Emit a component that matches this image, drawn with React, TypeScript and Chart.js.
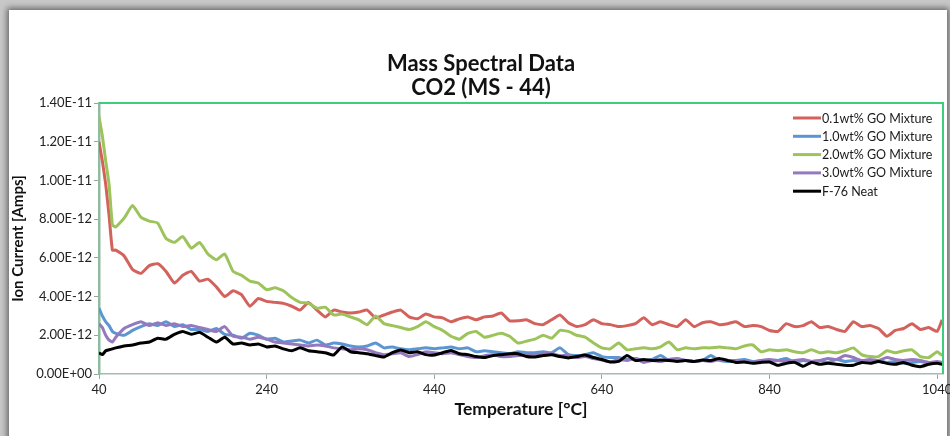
import { useEffect, useRef } from "react";
import { Chart, registerables } from "chart.js";

Chart.register(...registerables);

// Temperature sampling points (°C)
const temperatures = [
  40, 44, 48, 52, 56,
  60, 70, 80, 90, 100, 110, 120, 130, 140, 150,
  160, 170, 180, 190, 200, 210, 220, 230, 240, 250,
  260, 270, 280, 290, 300, 310, 320, 330, 340, 350,
  360, 370, 380, 390, 400, 410, 420, 430, 440, 450,
  460, 470, 480, 490, 500, 510, 520, 530, 540, 550,
  560, 570, 580, 590, 600, 610, 620, 630, 640, 650,
  660, 670, 680, 690, 700, 710, 720, 730, 740, 750,
  760, 770, 780, 790, 800, 810, 820, 830, 840, 850,
  860, 870, 880, 890, 900, 910, 920, 930, 940, 950,
  960, 970, 980, 990, 1000, 1010, 1020, 1030, 1040,
  1046,
];

// Ion current, in units of 1E-12 A
const goMix01 = [
  12.0, 11.0, 9.8, 8.2, 6.4,
  6.4, 6.1, 5.4, 5.2, 5.6, 5.7, 5.3, 4.7, 5.1, 5.3,
  4.8, 4.9, 4.5, 4.0, 4.3, 4.1, 3.5, 3.9, 3.75, 3.7,
  3.65, 3.5, 3.3, 3.7, 3.3, 2.95, 3.3, 3.2, 3.15, 3.2,
  3.3, 2.9, 3.05, 3.2, 3.3, 2.95, 2.85, 3.1, 2.95, 2.9,
  2.7, 2.85, 2.95, 2.8, 2.95, 3.0, 3.15, 2.75, 2.75, 2.8,
  2.6, 2.55, 2.8, 3.05, 2.65, 2.45, 2.55, 2.8, 2.6, 2.55,
  2.45, 2.5, 2.6, 2.9, 2.55, 2.7, 2.55, 2.45, 2.8, 2.45,
  2.65, 2.7, 2.55, 2.6, 2.7, 2.45, 2.5, 2.45, 2.25, 2.2,
  2.6, 2.45, 2.5, 2.7, 2.4, 2.45, 2.3, 2.2, 2.7, 2.45,
  2.5, 2.35, 1.95, 2.25, 2.35, 2.6, 2.3, 2.4, 2.2,
  2.8,
];

const goMix10 = [
  3.4, 3.0, 2.7, 2.5, 2.2,
  2.1, 2.0, 2.25, 2.45, 2.6, 2.5, 2.7, 2.45, 2.55, 2.3,
  2.3, 2.2, 2.35, 2.05, 2.0, 1.85, 2.1, 2.0, 1.8, 1.85,
  1.65, 1.7, 1.75, 1.6, 1.75, 1.5, 1.6, 1.55, 1.45, 1.4,
  1.45, 1.6, 1.35, 1.4, 1.3, 1.25, 1.3, 1.35, 1.3, 1.35,
  1.4, 1.3, 1.35, 1.15, 1.2, 1.15, 1.1, 1.05, 1.15, 1.1,
  1.1, 1.15, 1.1, 1.35, 1.0, 0.95, 1.0, 1.1, 0.9, 0.85,
  0.85, 0.75, 0.8, 0.7, 0.75, 0.95, 0.7, 0.75, 0.7, 0.65,
  0.7, 0.95, 0.7, 0.65, 0.7, 0.75, 0.65, 0.7, 0.65, 0.7,
  0.8, 0.6, 0.7, 0.65, 0.7, 0.6, 0.75, 0.65, 0.7, 0.6,
  0.65, 0.7, 0.6, 0.65, 0.55, 0.6, 0.65, 0.55, 0.6,
  0.55,
];

const goMix20 = [
  13.3, 12.3, 11.0, 9.8, 7.7,
  7.6, 8.05, 8.7, 8.1, 7.9, 7.8, 7.0, 6.8, 7.1, 6.5,
  6.8, 6.2, 5.9, 6.2, 5.3, 5.1, 4.8, 4.7, 4.35, 4.45,
  4.3, 3.95, 3.7, 3.65, 3.4, 3.45, 3.05, 3.1, 2.95, 2.8,
  2.55, 3.0, 2.6, 2.5, 2.4, 2.3, 2.45, 2.7, 2.45, 2.25,
  1.95, 1.8, 2.1, 2.2, 1.9, 2.0, 2.1, 1.95, 1.6, 1.7,
  1.8, 2.0, 1.85, 2.25, 2.2, 2.0, 1.9, 1.6, 1.35, 1.3,
  1.6, 1.25, 1.3, 1.35, 1.3, 1.4, 1.65, 1.25, 1.35, 1.3,
  1.35, 1.35, 1.4, 1.35, 1.3, 1.45, 1.5, 1.15, 1.25, 1.2,
  1.25, 1.15, 1.1, 1.25, 1.1, 1.15, 1.1, 1.2, 1.35, 1.0,
  0.9, 0.9, 1.2, 1.1, 1.2, 1.25, 0.9, 0.85, 1.15,
  0.95,
];

const goMix30 = [
  2.6, 2.4, 2.0, 1.75, 1.65,
  1.9, 2.35, 2.55, 2.7, 2.5, 2.65, 2.5, 2.6, 2.45, 2.5,
  2.4, 2.3, 2.2, 2.45, 1.95, 1.9, 1.8, 1.9, 1.8, 1.65,
  1.6, 1.55, 1.5, 1.45, 1.5, 1.45, 1.35, 1.3, 1.25, 1.3,
  1.25, 1.1, 1.0, 1.05, 1.1, 0.9, 1.0, 1.15, 1.1, 1.05,
  1.1, 1.0, 0.9, 0.85, 0.95, 1.0, 0.9, 0.9, 0.95, 1.0,
  1.0, 1.05, 1.05, 0.95, 0.95, 0.85, 0.9, 0.8, 0.72, 0.62,
  0.75, 0.7, 0.8, 0.6, 0.7, 0.65, 0.75, 0.8, 0.7, 0.65,
  0.7, 0.65, 0.75, 0.7, 0.7, 0.65, 0.6, 0.7, 0.75, 0.7,
  0.65, 0.7, 0.75, 0.65, 0.7, 0.8, 0.75, 0.95, 0.85, 0.7,
  0.75, 0.7, 0.85, 0.75, 0.7, 0.75, 0.7, 0.6, 0.65,
  0.6,
];

const f76Neat = [
  1.1, 1.0, 1.2, 1.25, 1.3,
  1.35, 1.45, 1.5, 1.6, 1.65, 1.85, 1.8, 2.05, 2.2, 2.05,
  2.15, 1.9, 1.65, 1.9, 1.55, 1.6, 1.5, 1.55, 1.4, 1.45,
  1.3, 1.2, 1.35, 1.2, 1.15, 1.1, 0.98, 1.4, 1.15, 1.1,
  1.05, 0.95, 0.88, 1.1, 1.24, 1.1, 1.15, 1.0, 0.98, 1.1,
  1.22, 1.05, 1.0, 0.9, 0.85, 0.95, 1.0, 1.05, 1.05, 0.9,
  0.88, 0.95, 1.0, 0.9, 0.83, 0.9, 0.98, 0.85, 0.75, 0.62,
  0.65, 0.95, 0.7, 0.75, 0.7, 0.72, 0.7, 0.65, 0.7, 0.65,
  0.72, 0.7, 0.8, 0.7, 0.6, 0.62, 0.55, 0.6, 0.62, 0.45,
  0.55, 0.6, 0.4, 0.6, 0.5, 0.55, 0.5, 0.45, 0.45, 0.6,
  0.55, 0.65, 0.55, 0.5, 0.6, 0.45, 0.38, 0.5, 0.55,
  0.5,
];

const seriesLabels = [
  "0.1wt% GO Mixture",
  "1.0wt% GO Mixture",
  "2.0wt% GO Mixture",
  "3.0wt% GO Mixture",
  "F-76 Neat",
];
const seriesValues = [goMix01, goMix10, goMix20, goMix30, f76Neat];
const seriesColors = ["#d3625d", "#5b96d2", "#9dc35b", "#9579bf", "#000000"];

const xTickValues = [40, 240, 440, 640, 840, 1040];
const titleLines = ["Mass Spectral Data", "CO2 (MS - 44)"];
const xTitle = "Temperature [°C]";
const yTitle = "Ion Current [Amps]";

const FONT = "Lato, 'Open Sans', sans-serif";

// 2 -> "2.00E-12", 0 -> "0.00E+00"
function formatAmps(v: number): string {
  const [mant, exp] = (v * 1e-12).toExponential(2).split("e");
  const sign = exp[0] === "-" ? "-" : "+";
  const digits = exp.replace(/^[+-]/, "").padStart(2, "0");
  return `${mant}E${sign}${digits}`;
}

const decorPlugin = {
  id: "decor",
  afterDraw(chart: any) {
    const { ctx, chartArea: a } = chart;
    ctx.save();

    // green plot-area frame (top and right edges)
    ctx.strokeStyle = "#3ecd7c";
    ctx.lineWidth = 2;
    ctx.beginPath();
    ctx.moveTo(a.left, a.top);
    ctx.lineTo(a.right, a.top);
    ctx.lineTo(a.right, a.bottom);
    ctx.stroke();

    // two-line title
    ctx.fillStyle = "#111";
    ctx.font = `bold 22px ${FONT}`;
    ctx.textAlign = "center";
    ctx.textBaseline = "middle";
    titleLines.forEach((t, i) => ctx.fillText(t, 481, 64 + i * 24));

    // legend inside the plot area, top right
    ctx.font = `12.5px ${FONT}`;
    ctx.textAlign = "left";
    seriesLabels.forEach((label, i) => {
      const y = 118 + i * 18.3;
      ctx.strokeStyle = seriesColors[i];
      ctx.lineWidth = 3;
      ctx.beginPath();
      ctx.moveTo(793, y);
      ctx.lineTo(821, y);
      ctx.stroke();
      ctx.fillStyle = "#1a1a1a";
      ctx.fillText(label, 822, y + 0.5);
    });

    ctx.restore();
  },
};

export default function App() {
  const canvasRef = useRef<HTMLCanvasElement | null>(null);

  useEffect(() => {
    if (!canvasRef.current) return;
    const datasets = seriesValues.map((vals, s) => ({
      label: seriesLabels[s],
      data: temperatures.map((t, i) => ({ x: t, y: vals[i] })),
      borderColor: seriesColors[s],
      backgroundColor: seriesColors[s],
      borderWidth: 3,
      pointRadius: 0,
      tension: 0.15,
      fill: false,
      order: seriesValues.length - s,
    }));

    const chart = new Chart(canvasRef.current, {
      type: "line",
      data: { datasets },
      options: {
        animation: false,
        responsive: false,
        devicePixelRatio: 1,
        layout: { padding: { top: 103, right: 7, left: 0, bottom: 0 } },
        plugins: {
          legend: { display: false },
          title: { display: false },
          tooltip: { enabled: false },
        },
        scales: {
          x: {
            type: "linear",
            min: 40,
            max: 1047,
            afterBuildTicks: (scale: any) => {
              scale.ticks = xTickValues.map((v) => ({ value: v }));
            },
            afterFit: (scale: any) => {
              scale.height = 62;
              scale.paddingLeft = 0;
              scale.paddingRight = 0;
            },
            ticks: {
              color: "#222",
              font: { family: FONT, size: 13 },
              padding: 3,
              maxRotation: 0,
              autoSkip: false,
              callback: (v: any) => String(v),
            },
            grid: {
              drawOnChartArea: false,
              drawTicks: true,
              tickLength: 5,
              color: "#a0a0a0",
            },
            border: { color: "#a6bcb0", width: 1.5 },
            title: {
              display: true,
              text: xTitle,
              color: "#111",
              font: { family: FONT, size: 17.5, weight: "bold" },
              padding: { top: 0, bottom: 16 },
            },
          },
          y: {
            type: "linear",
            min: 0,
            max: 14,
            afterFit: (scale: any) => {
              scale.width = 99;
            },
            ticks: {
              stepSize: 2,
              color: "#222",
              font: { family: FONT, size: 13 },
              padding: 2,
              callback: (v: any) => formatAmps(Number(v)),
            },
            grid: {
              drawOnChartArea: false,
              drawTicks: true,
              tickLength: 5,
              color: "#a0a0a0",
            },
            border: { color: "#8fbc9f", width: 2.5 },
            title: {
              display: true,
              text: yTitle,
              color: "#111",
              font: { family: FONT, size: 15, weight: "bold" },
              padding: { top: 9, bottom: 0 },
            },
          },
        },
      },
      plugins: [decorPlugin],
    } as any);

    return () => chart.destroy();
  }, []);

  return (
    <div
      style={{
        position: "relative",
        width: 950,
        height: 436,
        overflow: "hidden",
        background: "#c8c8c8",
      }}
    >
      <style>{`body{margin:0}`}</style>
      <div
        style={{
          position: "absolute",
          left: 9,
          top: 10,
          width: 938,
          height: 480,
          background: "#ffffff",
          boxShadow: "0 0 6px 2px rgba(0,0,0,0.5)",
        }}
      />
      <canvas
        ref={canvasRef}
        width={950}
        height={436}
        style={{ position: "absolute", left: 0, top: 0, width: 950, height: 436 }}
      />
    </div>
  );
}
